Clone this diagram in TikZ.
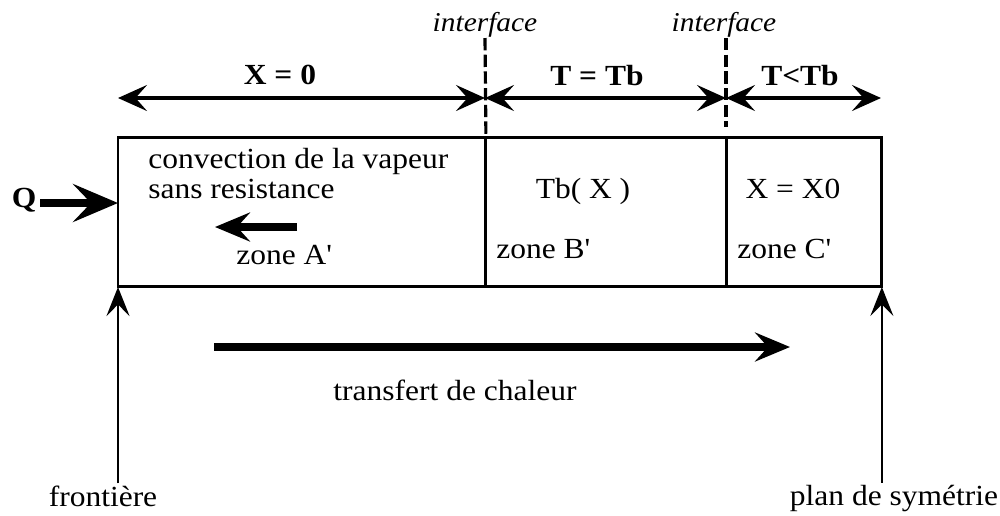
\documentclass[tikz,border=0pt]{standalone}
\usepackage{fontspec}
\setmainfont{Liberation Serif}[FakeStretch=1.08]
\usetikzlibrary{arrows.meta,positioning}
\tikzset{
  zonebox/.style = {rectangle, draw=black, line width=1.7pt, minimum height=3cm,
                    inner sep=0pt, outer sep=0pt, anchor=north west},
  txt/.style     = {font=\fontsize{16.6}{17}\selectfont, inner sep=0pt},
  btxt/.style    = {txt, font=\fontsize{16.6}{17}\selectfont\bfseries},
  itxt/.style    = {txt, font=\fontsize{15.5}{17}\selectfont\itshape},
  dimar/.style   = {{Stealth[length=5.8mm,width=5.2mm,inset=2.3mm]}-{Stealth[length=5.8mm,width=5.2mm,inset=2.3mm]},
                    line width=1.9pt},
  upar/.style    = {-{Stealth[length=5.8mm,width=4.6mm,inset=2.3mm]}, line width=1.4pt},
  bigar/.style   = {-{Stealth[length=7mm,width=5.8mm,inset=2.6mm]}, line width=4.2pt},
  qar/.style     = {-{Stealth[length=9mm,width=7.6mm,inset=3.6mm]}, line width=4.4pt},
  ifline/.style  = {line width=1.8pt, dash pattern=on 7pt off 2.5pt}
}
\begin{document}
\begin{tikzpicture}[x=0.02cm, y=-0.02cm]
    \useasboundingbox (0,0) rectangle (1000,515);
    % zones
    \node[zonebox, minimum width=7.36cm] (zA) at (118,137) {};
    \node[zonebox, minimum width=4.82cm] (zB) at (zA.north east) {};
    \node[zonebox, minimum width=3.1cm]  (zC) at (zB.north east) {};
    % interfaces
    \node[itxt, anchor=base] (if1) at (485,31) {interface};
    \node[itxt, anchor=base] (if2) at (724,31) {interface};
    \coordinate (i1) at (485,38);
    \coordinate (i2) at (726,38);
    \coordinate (i2b) at (726,127);
    \draw[ifline] (i1) -- (zB.north west);
    \draw[ifline] (i2) -- (i2b);
    % extents
    \coordinate (d0) at (118,98);
    \coordinate (d1) at (485,98);
    \coordinate (d2) at (726,98);
    \coordinate (d3) at (881,98);
    \draw[dimar] (d0) -- (d1);  \draw[dimar] (d1) -- (d2);  \draw[dimar] (d2) -- (d3);
    \node[btxt, anchor=base] (xA) at (280,84) {X = 0};
    \node[btxt, anchor=base] (tB) at (597,85) {T = Tb};
    \node[btxt, anchor=base] (tC) at (800,85) {T<Tb};
    % inside the zones
    \node[txt, anchor=base west] (cv1) at (148,168) {convection de la vapeur};
    \node[txt, anchor=base west] (cv2) at (148,198) {sans resistance};
    \coordinate (c0) at (297,227);
    \coordinate (c1) at (215,227);
    \draw[bigar] (c0) -- (c1);
    \node[txt, anchor=base] (nA) at (284,264) {zone A\textquotesingle};
    \node[txt, anchor=base] (tbx) at (583,198) {Tb( X )};
    \node[txt, anchor=base west] (nB) at (496,258) {zone B\textquotesingle};
    \node[txt, anchor=base] (xx0) at (793,198) {X = X0};
    \node[txt, anchor=base west] (nC) at (737,258) {zone C\textquotesingle};
    % flux
    \node[btxt, anchor=base, inner sep=2pt] (Q) at (24,207) {Q};
    \coordinate (qend) at (118,203);
    \draw[qar] (Q.east |- qend) -- (qend);
    \coordinate (t0) at (214,347);
    \coordinate (t1) at (790,347);
    \draw[bigar] (t0) -- (t1);
    \node[txt, anchor=base] (tr) at (455,400) {transfert de chaleur};
    % limits
    \node[txt, anchor=base, inner sep=1pt] (fr) at (103,506) {frontière};
    \node[txt, anchor=base, inner sep=1pt] (sym) at (894,505) {plan de symétrie};
    \draw[upar] (zA.south west |- fr.north) -- (zA.south west);
    \draw[upar] (zC.south east |- sym.north) -- (zC.south east);
\end{tikzpicture}
\end{document}
